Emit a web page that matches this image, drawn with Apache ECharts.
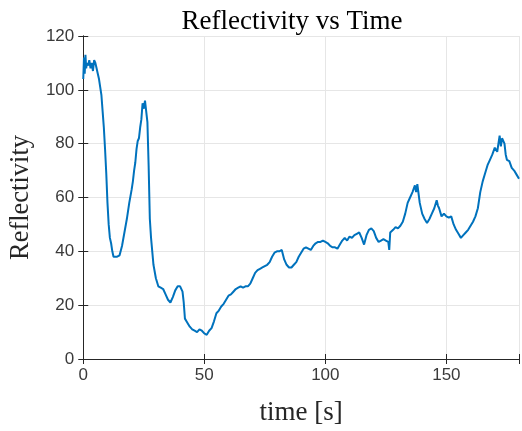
<!DOCTYPE html>
<html>
<head>
<meta charset="utf-8">
<script src="https://cdn.jsdelivr.net/npm/echarts@6/dist/echarts.min.js"></script>
<style>
  html, body { margin: 0; padding: 0; background: #fff; }
  #chart { width: 522px; height: 431px; }
</style>
</head>
<body>
<div id="chart"></div>
<script>
// time [s]
const times = [
  0, 0.3, 0.6, 0.9, 1.2, 1.5, 2, 2.5, 3, 3.5, 4, 4.5, 5, 5.5, 6, 6.5, 7, 7.5, 8, 8.5,
  9, 9.5, 10, 10.5, 11, 11.5, 12, 12.5, 13, 14, 15, 16, 17, 18, 19, 20, 20.5, 21, 21.5, 22,
  22.5, 23, 23.5, 24, 24.5, 25, 25.5, 26, 26.5, 27, 27.5, 28, 28.5, 29, 30, 31, 32, 33, 34, 35,
  36, 37, 38, 39, 40, 41, 41.5, 42, 43, 44, 45, 46, 47, 48, 49, 50, 51, 52, 53, 54,
  55, 56, 57, 58, 59, 60, 61, 62, 63, 64, 65, 66, 67, 68, 69, 70, 71, 72, 73, 74,
  75, 76, 77, 78, 79, 80, 81, 82, 83, 84, 85, 86, 87, 88, 89, 90, 91, 92, 93, 94,
  95, 96, 97, 98, 99, 100, 101, 102, 103, 104, 105, 106, 107, 108, 109, 110, 111, 112, 113, 114,
  115, 116, 117, 118, 119, 120, 121, 122, 123, 124, 125, 126, 126.4, 126.8, 128, 129, 130, 131, 132, 133,
  134, 135, 136, 137, 137.5, 138, 139, 140, 141, 142, 143, 144, 145, 146, 146.5, 147, 148, 149, 150, 151,
  152, 153, 154, 155, 156, 157, 158, 159, 160, 161, 162, 163, 164, 165, 166, 167, 168, 169, 170, 171,
  172, 172.5, 173, 174, 174.5, 175, 176, 177, 178, 179, 180
]
// reflectivity
const reflectivity = [
  104, 112, 106, 113, 108, 110, 109, 111, 108, 110, 107, 111, 110, 108, 106, 104, 101, 98, 92, 86,
  78, 69, 58, 50, 45, 43, 40, 38, 37.5, 38, 38.5, 42, 47, 52, 58, 63, 66, 70, 73, 78,
  81, 82, 86, 89, 95, 93, 96, 92, 88, 72, 52, 45, 40, 35, 30, 27, 26.5, 26, 24, 22,
  21, 23, 25.5, 27, 27, 25, 21, 15, 13.5, 12, 11, 10.5, 10, 11, 10.5, 9.5, 9, 10.5, 11.5, 14,
  17, 18, 19.5, 20.5, 22, 23.5, 24, 25, 26, 26.5, 27, 26.5, 27, 27, 28, 30, 32, 33, 33.5, 34,
  34.5, 35, 36, 38, 39.5, 40, 40, 40.5, 37, 35, 34, 34, 35, 36, 38, 39.5, 41, 41.5, 41, 40.5,
  42, 43, 43.5, 43.5, 44, 43.5, 43, 42, 41.5, 41.5, 41, 42.5, 44, 45, 44, 45.5, 45, 46, 46.5, 47,
  45, 42.5, 46, 48, 48.5, 47.5, 45, 43.5, 44, 44.5, 44, 43.5, 40.5, 47, 48, 49, 48.5, 49.5, 51, 54,
  58, 60, 62, 64.5, 62, 65, 58, 54, 52, 50.5, 52, 54, 56, 59, 57, 56, 53, 54, 53, 52.5,
  53, 50, 48, 46.5, 45, 46, 47, 48, 49.5, 51, 53, 56, 62, 66, 69, 72, 74, 76, 78.5, 77,
  83, 79, 82, 80, 76, 74, 73.5, 71, 70, 68.5, 67
]
const xTicks = [0, 50, 100, 150]

const seriesData = times.map((t, i) => [t, reflectivity[i]])

const chart = echarts.init(document.getElementById('chart'))

const axisColor = '#262626'
const gridColor = '#e6e6e6'
const tickFont = { fontFamily: 'Liberation Sans', fontSize: 17, color: '#3a3a3a' }
const serif = 'Liberation Serif'

chart.setOption({
  animation: false,
  title: {
    text: 'Reflectivity vs Time',
    left: 287,
    top: 3,
    textAlign: 'center',
    textStyle: { fontFamily: serif, fontSize: 27, fontWeight: 'normal', color: '#000' },
  },
  grid: {
    left: 82,
    right: 1,
    top: 36,
    bottom: 72,
  },
  xAxis: [{
    type: 'value',
    min: 0,
    max: 180,
    interval: 50,
    name: 'time [s]',
    nameLocation: 'middle',
    nameGap: 40,
    nameTextStyle: { fontFamily: serif, fontSize: 27, color: '#262626' },
    axisLine: { lineStyle: { color: axisColor, width: 1 } },
    axisTick: { inside: true, length: 5, lineStyle: { color: axisColor } },
    axisLabel: {
      ...tickFont,
      margin: 8,
      formatter: v => (xTicks.includes(v) ? String(v) : ''),
    },
    splitLine: { show: true, lineStyle: { color: gridColor } },
  }, {
    type: 'value',
    position: 'top',
    min: 0,
    max: 180,
    interval: 50,
    axisLine: { show: true, lineStyle: { color: axisColor, width: 1 } },
    axisTick: { show: true, inside: true, length: 5, lineStyle: { color: axisColor } },
    axisLabel: { show: false },
    splitLine: { show: false },
  }],
  yAxis: [{
    type: 'value',
    min: 0,
    max: 120,
    interval: 20,
    name: 'Reflectivity',
    nameLocation: 'middle',
    nameGap: 42,
    nameTextStyle: { fontFamily: serif, fontSize: 26.5, color: '#262626' },
    axisLine: { show: true, lineStyle: { color: axisColor, width: 1 } },
    axisTick: { show: true, inside: true, length: 5, lineStyle: { color: axisColor } },
    axisLabel: { ...tickFont, margin: 9 },
    splitLine: { show: true, lineStyle: { color: gridColor } },
  }, {
    type: 'value',
    position: 'right',
    min: 0,
    max: 120,
    interval: 20,
    axisLine: { show: true, lineStyle: { color: axisColor, width: 1 } },
    axisTick: { show: true, inside: true, length: 5, lineStyle: { color: axisColor } },
    axisLabel: { show: false },
    splitLine: { show: false },
  }],
  series: [{
    name: 'Reflectivity',
    type: 'line',
    showSymbol: false,
    data: seriesData,
    lineStyle: { color: '#0072BD', width: 2 },
    itemStyle: { color: '#0072BD' },
  }],
})
</script>
</body>
</html>
